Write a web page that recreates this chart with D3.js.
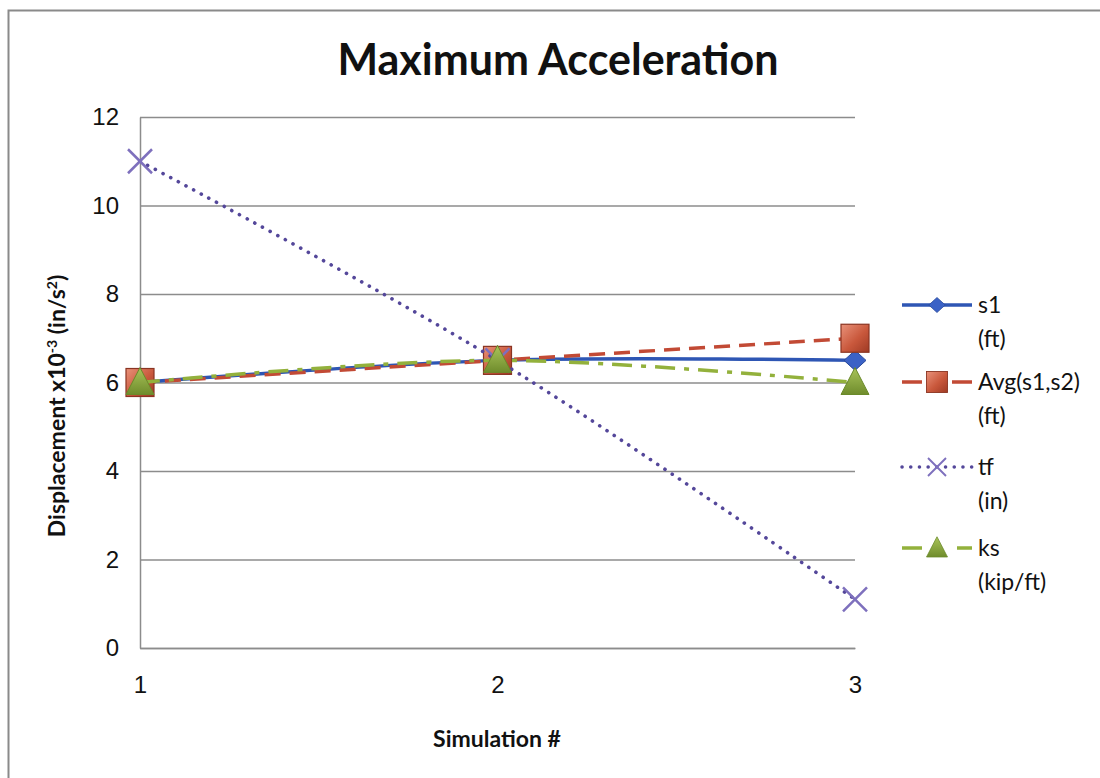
<!DOCTYPE html>
<html>
<head>
<meta charset="utf-8">
<script src="https://cdn.jsdelivr.net/npm/d3@7"></script>
<style>
  body { margin: 0; background: #fff; }
  svg { display: block; }
</style>
</head>
<body>
<div id="chart"></div>
<script>
// data
const simulations = [1, 2, 3];
const s1 = [6, 6.5, 6.5];
const avgS1S2 = [6, 6.5, 7];
const tf = [11, 6.5, 1.1];
const ks = [6, 6.5, 6];
const yTicks = [0, 2, 4, 6, 8, 10, 12];

const series = [
    {name: "s1", unit: "(ft)", values: s1, color: "#2e56b4", dash: null, marker: "diamond"},
    {name: "Avg(s1,s2)", unit: "(ft)", values: avgS1S2, color: "#c24a35", dash: "16,9", marker: "square"},
    {name: "tf", unit: "(in)", values: tf, color: "#54479a", dash: "0.1,8.6", marker: "x"},
    {name: "ks", unit: "(kip/ft)", values: ks, color: "#93b13c", dash: "20,9,5,9", marker: "triangle"}
];

const width = 1100, height = 778;
const margin = {top: 117, right: 245, bottom: 130, left: 140};

const svg = d3.select("#chart").append("svg")
    .attr("width", width)
    .attr("height", height);

// outer chart frame (runs off the right and bottom of the picture)
svg.append("rect")
    .attr("x", 8.5).attr("y", 10.5)
    .attr("width", 1200).attr("height", 900)
    .attr("fill", "none")
    .attr("stroke", "#8a8a8a")
    .attr("stroke-width", 2);

let x = d3.scaleLinear().domain([1, 3]).range([margin.left, width - margin.right]);
let y = d3.scaleLinear().domain([0, 12]).range([height - margin.bottom, margin.top]);

// gridlines
svg.append("g")
    .selectAll("line")
    .data(yTicks)
    .enter().append("line")
    .attr("x1", x(1)).attr("x2", x(3))
    .attr("y1", d => y(d) + 0.5).attr("y2", d => y(d) + 0.5)
    .attr("stroke", "#8c8c8c")
    .attr("stroke-width", 1.3);

// y axis
let yAxis = svg.append("g")
    .attr("transform", "translate(" + x(1) + ",0)")
    .call(d3.axisLeft(y).tickValues(yTicks).tickSize(0).tickPadding(21));
yAxis.select(".domain").attr("stroke", "#8c8c8c").attr("stroke-width", 1.5);
yAxis.selectAll("text")
    .style("font-family", "'Liberation Sans', Arial, sans-serif")
    .style("font-size", "24px")
    .attr("fill", "#111");

// x axis
let xAxis = svg.append("g")
    .attr("transform", "translate(0," + y(0) + ")")
    .call(d3.axisBottom(x).tickValues(simulations).tickFormat(d3.format("d")).tickSize(0).tickPadding(28));
xAxis.select(".domain").attr("stroke", "#8c8c8c").attr("stroke-width", 1.5);
xAxis.selectAll("text")
    .style("font-family", "'Liberation Sans', Arial, sans-serif")
    .style("font-size", "24px")
    .attr("fill", "#111");

// titles
svg.append("text")
    .attr("x", 558).attr("y", 75)
    .attr("text-anchor", "middle")
    .style("font-family", "Lato, 'Open Sans', sans-serif")
    .style("font-weight", "bold")
    .style("font-size", "43px")
    .attr("fill", "#111")
    .text("Maximum Acceleration");

svg.append("text")
    .attr("x", 497).attr("y", 747)
    .attr("text-anchor", "middle")
    .style("font-family", "Lato, 'Open Sans', sans-serif")
    .style("font-weight", "bold")
    .style("font-size", "23px")
    .attr("fill", "#111")
    .text("Simulation #");

let yTitle = svg.append("text")
    .attr("transform", "translate(65,406) rotate(-90)")
    .attr("text-anchor", "middle")
    .style("font-family", "Lato, 'Open Sans', sans-serif")
    .style("font-weight", "bold")
    .style("font-size", "23px")
    .attr("fill", "#111");
yTitle.append("tspan").text("Displacement x10");
yTitle.append("tspan").attr("dy", -8).style("font-size", "14px").text("-3");
yTitle.append("tspan").attr("dy", 8).text(" (in/s");
yTitle.append("tspan").attr("dy", -8).style("font-size", "14px").text("2");
yTitle.append("tspan").attr("dy", 8).text(")");

// marker shapes
const defs = svg.append("defs");
let sq = defs.append("linearGradient").attr("id", "sqGrad")
    .attr("x1", 0).attr("y1", 0).attr("x2", 1).attr("y2", 1);
sq.append("stop").attr("offset", "0%").attr("stop-color", "#e9927a");
sq.append("stop").attr("offset", "55%").attr("stop-color", "#c9583c");
sq.append("stop").attr("offset", "100%").attr("stop-color", "#9e3a24");
let tri = defs.append("linearGradient").attr("id", "triGrad")
    .attr("x1", 0).attr("y1", 0).attr("x2", 0).attr("y2", 1);
tri.append("stop").attr("offset", "0%").attr("stop-color", "#a9c45a");
tri.append("stop").attr("offset", "100%").attr("stop-color", "#6f8c2c");

function drawMarker(g, type) {
    if (type === "diamond") {
        g.append("path")
            .attr("d", "M0,-10 L11,0 L0,10 L-11,0 Z")
            .attr("fill", "#3b62c6").attr("stroke", "#2a4a9a").attr("stroke-width", 1);
    } else if (type === "square") {
        g.append("rect")
            .attr("x", -14).attr("y", -14).attr("width", 28).attr("height", 28)
            .attr("fill", "url(#sqGrad)").attr("stroke", "#8a3422").attr("stroke-width", 1.2);
    } else if (type === "x") {
        g.append("path")
            .attr("d", "M-12,-12 L12,12 M12,-12 L-12,12")
            .attr("stroke", "#7e70bd").attr("stroke-width", 2.5).attr("fill", "none");
    } else if (type === "triangle") {
        g.append("path")
            .attr("d", "M0,-15 L14,12 L-14,12 Z")
            .attr("fill", "url(#triGrad)").attr("stroke", "#6a8a2a").attr("stroke-width", 1);
    }
}

const line = d3.line()
    .x((d, i) => x(simulations[i]))
    .y(d => y(d))
    .curve(d3.curveCatmullRom.alpha(0.5));

// series: line then markers, in order
series.forEach(function (s) {
    let g = svg.append("g").attr("class", "series");
    g.append("path")
        .datum(s.values)
        .attr("d", line)
        .attr("fill", "none")
        .attr("stroke", s.color)
        .attr("stroke-width", s.marker === "x" ? 3.6 : 3.5)
        .attr("stroke-linecap", s.marker === "x" ? "round" : "butt")
        .attr("stroke-dasharray", s.dash);
    s.values.forEach(function (v, i) {
        let m = g.append("g").attr("transform", "translate(" + x(simulations[i]) + "," + y(v) + ")");
        drawMarker(m, s.marker);
    });
});

// legend
const legendTop = [305, 382, 467, 548];
series.forEach(function (s, i) {
    let g = svg.append("g").attr("transform", "translate(902," + legendTop[i] + ")");
    g.append("line")
        .attr("x1", 0).attr("x2", 70)
        .attr("stroke", s.color)
        .attr("stroke-width", 3.5)
        .attr("stroke-linecap", s.marker === "x" ? "round" : "butt")
        .attr("stroke-dasharray", s.marker === "x" ? "0.1,8.6" : (s.dash ? (s.marker === "triangle" ? "20,35" : "20,30") : null));
    let m = g.append("g").attr("transform", "translate(35,0) scale(0.75)");
    drawMarker(m, s.marker);
    let t = g.append("text")
        .attr("x", 76).attr("y", 8)
        .style("font-family", "Lato, 'Open Sans', sans-serif")
        .style("font-size", "23px")
        .attr("fill", "#111");
    t.append("tspan").attr("x", 76).text(s.name);
    t.append("tspan").attr("x", 76).attr("dy", 34).text(s.unit);
});
</script>
</body>
</html>
